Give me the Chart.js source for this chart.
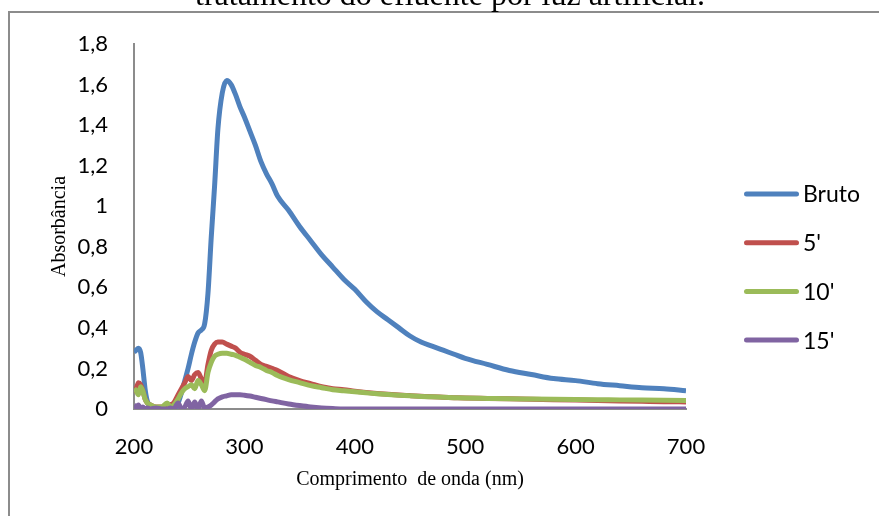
<!DOCTYPE html>
<html>
<head>
<meta charset="utf-8">
<script src="https://cdn.jsdelivr.net/npm/chart.js@4.4.1/dist/chart.umd.min.js"></script>
<style>
    html, body { margin: 0; padding: 0; background: #fff; }
    #grafico { display: block; }
</style>
</head>
<body>
<canvas id="grafico" width="879" height="516"></canvas>
<script>
var comprimento = [200, 202, 204, 206, 208, 210, 212, 215, 220, 225, 230, 233, 236, 240, 243, 246, 249, 252, 255, 258,
    261, 264, 267, 270, 273, 276, 280, 284, 288, 292, 296, 300, 305, 310, 315, 320, 325, 330, 340, 350,
    360, 370, 380, 390, 400, 410, 420, 430, 440, 450, 460, 470, 480, 490, 500, 520, 540, 560, 580, 600,
    620, 640, 660, 680, 700]

var bruto = [0.28, 0.29, 0.30, 0.28, 0.20, 0.10, 0.04, 0.01, 0, 0, 0, 0, 0, 0.03, 0.08, 0.14, 0.20, 0.27, 0.33, 0.375,
    0.39, 0.42, 0.57, 0.85, 1.10, 1.38, 1.56, 1.62, 1.60, 1.55, 1.49, 1.44, 1.37, 1.30, 1.22, 1.16, 1.11, 1.05, 0.98, 0.90,
    0.83, 0.76, 0.70, 0.64, 0.59, 0.53, 0.48, 0.44, 0.40, 0.36, 0.33, 0.31, 0.29, 0.27, 0.25, 0.22, 0.19, 0.17, 0.15, 0.14,
    0.125, 0.115, 0.105, 0.10, 0.09]

var cincoMin = [0.08, 0.10, 0.13, 0.12, 0.09, 0.05, 0.03, 0.02, 0.01, 0.01, 0.01, 0.02, 0.03, 0.07, 0.10, 0.13, 0.16, 0.14, 0.17, 0.18,
    0.15, 0.13, 0.22, 0.29, 0.32, 0.33, 0.33, 0.32, 0.31, 0.30, 0.28, 0.27, 0.26, 0.24, 0.22, 0.21, 0.20, 0.19, 0.16, 0.14,
    0.125, 0.11, 0.10, 0.095, 0.088, 0.082, 0.077, 0.073, 0.069, 0.066, 0.063, 0.06, 0.058, 0.056, 0.054, 0.052, 0.05, 0.048, 0.046, 0.044,
    0.042, 0.04, 0.038, 0.036, 0.035]

var dezMin = [0.10, 0.09, 0.07, 0.11, 0.09, 0.05, 0.03, 0.02, 0.01, 0.01, 0.03, 0.01, 0.02, 0.05, 0.08, 0.10, 0.11, 0.12, 0.10, 0.14,
    0.12, 0.09, 0.18, 0.23, 0.26, 0.27, 0.275, 0.275, 0.27, 0.265, 0.255, 0.245, 0.23, 0.215, 0.205, 0.19, 0.18, 0.165, 0.145, 0.13,
    0.115, 0.105, 0.095, 0.09, 0.085, 0.08, 0.075, 0.071, 0.068, 0.065, 0.062, 0.06, 0.058, 0.056, 0.054, 0.052, 0.05, 0.049, 0.048, 0.047,
    0.046, 0.045, 0.044, 0.043, 0.042]

var quinzeMin = [0.02, 0.01, 0.02, 0, 0.01, 0, 0.005, 0, 0.005, 0, 0, 0.005, 0, 0.03, 0, 0.01, 0.04, 0, 0.035, 0,
    0.04, 0.005, 0.01, 0.02, 0.035, 0.05, 0.06, 0.065, 0.07, 0.07, 0.07, 0.068, 0.064, 0.058, 0.052, 0.046, 0.04, 0.035, 0.025, 0.017,
    0.01, 0.005, 0.002, 0, 0, 0, 0, 0, 0, 0, 0, 0, 0, 0, 0, 0, 0, 0, 0, 0,
    0, 0, 0, 0, 0]

var rotuloY = ['0', '0,2', '0,4', '0,6', '0,8', '1', '1,2', '1,4', '1,6', '1,8']
var series = ['Bruto', "5'", "10'", "15'"]
var cores = ['#4F81BD', '#C0504D', '#9BBB59', '#8064A2']

function pontos(valores) {
    return valores.map((v, i) => ({ x: comprimento[i], y: v }))
}

var valores = [bruto, cincoMin, dezMin, quinzeMin]

var datasets = valores.map((v, i) => {
    return {
        label: series[i],
        data: pontos(v),
        borderColor: cores[i],
        backgroundColor: cores[i],
        borderWidth: 5,
        pointRadius: 0,
        cubicInterpolationMode: 'monotone',
        order: 4 - i
    }
})

// moldura, titulo cortado e legenda desenhados a mao
var extras = {
    id: 'extras',
    beforeDraw(chart) {
        var ctx = chart.ctx
        ctx.save()
        ctx.fillStyle = '#fff'
        ctx.fillRect(0, 0, chart.width, chart.height)
        ctx.strokeStyle = '#8c8c8c'
        ctx.lineWidth = 2
        ctx.beginPath()
        ctx.moveTo(9, 516)
        ctx.lineTo(9, 12)
        ctx.lineTo(879, 12)
        ctx.stroke()
        ctx.fillStyle = '#000'
        ctx.font = '32px "Liberation Serif"'
        ctx.textAlign = 'center'
        ctx.textBaseline = 'alphabetic'
        ctx.fillText('tratamento do efluente por luz artificial.', 450, 5)
        ctx.restore()
    },
    afterDraw(chart) {
        var ctx = chart.ctx
        ctx.save()
        chart.data.datasets.forEach((ds, i) => {
            var y = 194 + i * 48.7
            ctx.strokeStyle = ds.borderColor
            ctx.lineWidth = 5
            ctx.lineCap = 'round'
            ctx.beginPath()
            ctx.moveTo(746.5, y)
            ctx.lineTo(796.5, y)
            ctx.stroke()
            ctx.fillStyle = '#000'
            ctx.font = '23px Lato'
            ctx.textAlign = 'left'
            ctx.textBaseline = 'middle'
            ctx.fillText(ds.label, 803, y + 1)
        })
        ctx.restore()
    }
}

new Chart(document.querySelector('#grafico'), {
    type: 'line',
    data: { datasets },
    plugins: [extras],
    options: {
        responsive: false,
        animation: false,
        devicePixelRatio: 1,
        layout: { padding: { left: 0, top: 44, right: 193, bottom: 17 } },
        plugins: {
            legend: { display: false },
            tooltip: { enabled: false }
        },
        scales: {
            x: {
                type: 'linear',
                min: 200,
                max: 700,
                afterFit(scale) { scale.height = 90 },
                grid: { display: false, drawTicks: false },
                border: { display: true, color: '#8c8c8c', width: 2 },
                ticks: {
                    stepSize: 100,
                    padding: 25,
                    color: '#000',
                    font: { family: 'Lato', size: 22 }
                },
                title: {
                    display: true,
                    text: 'Comprimento  de onda (nm)',
                    color: '#000',
                    font: { family: 'Liberation Serif', size: 20 },
                    padding: { top: 0, bottom: 7 }
                }
            },
            y: {
                min: 0,
                max: 1.8,
                afterFit(scale) { scale.width = 134 },
                grid: { display: false, drawTicks: false },
                border: { display: true, color: '#8c8c8c', width: 2 },
                ticks: {
                    stepSize: 0.2,
                    padding: 26,
                    color: '#000',
                    font: { family: 'Lato', size: 22 },
                    callback: (v, i) => rotuloY[i]
                },
                title: {
                    display: true,
                    text: 'Absorbância',
                    color: '#000',
                    font: { family: 'Liberation Serif', size: 20 },
                    padding: { top: 48, bottom: 0 }
                }
            }
        }
    }
})
</script>
</body>
</html>
